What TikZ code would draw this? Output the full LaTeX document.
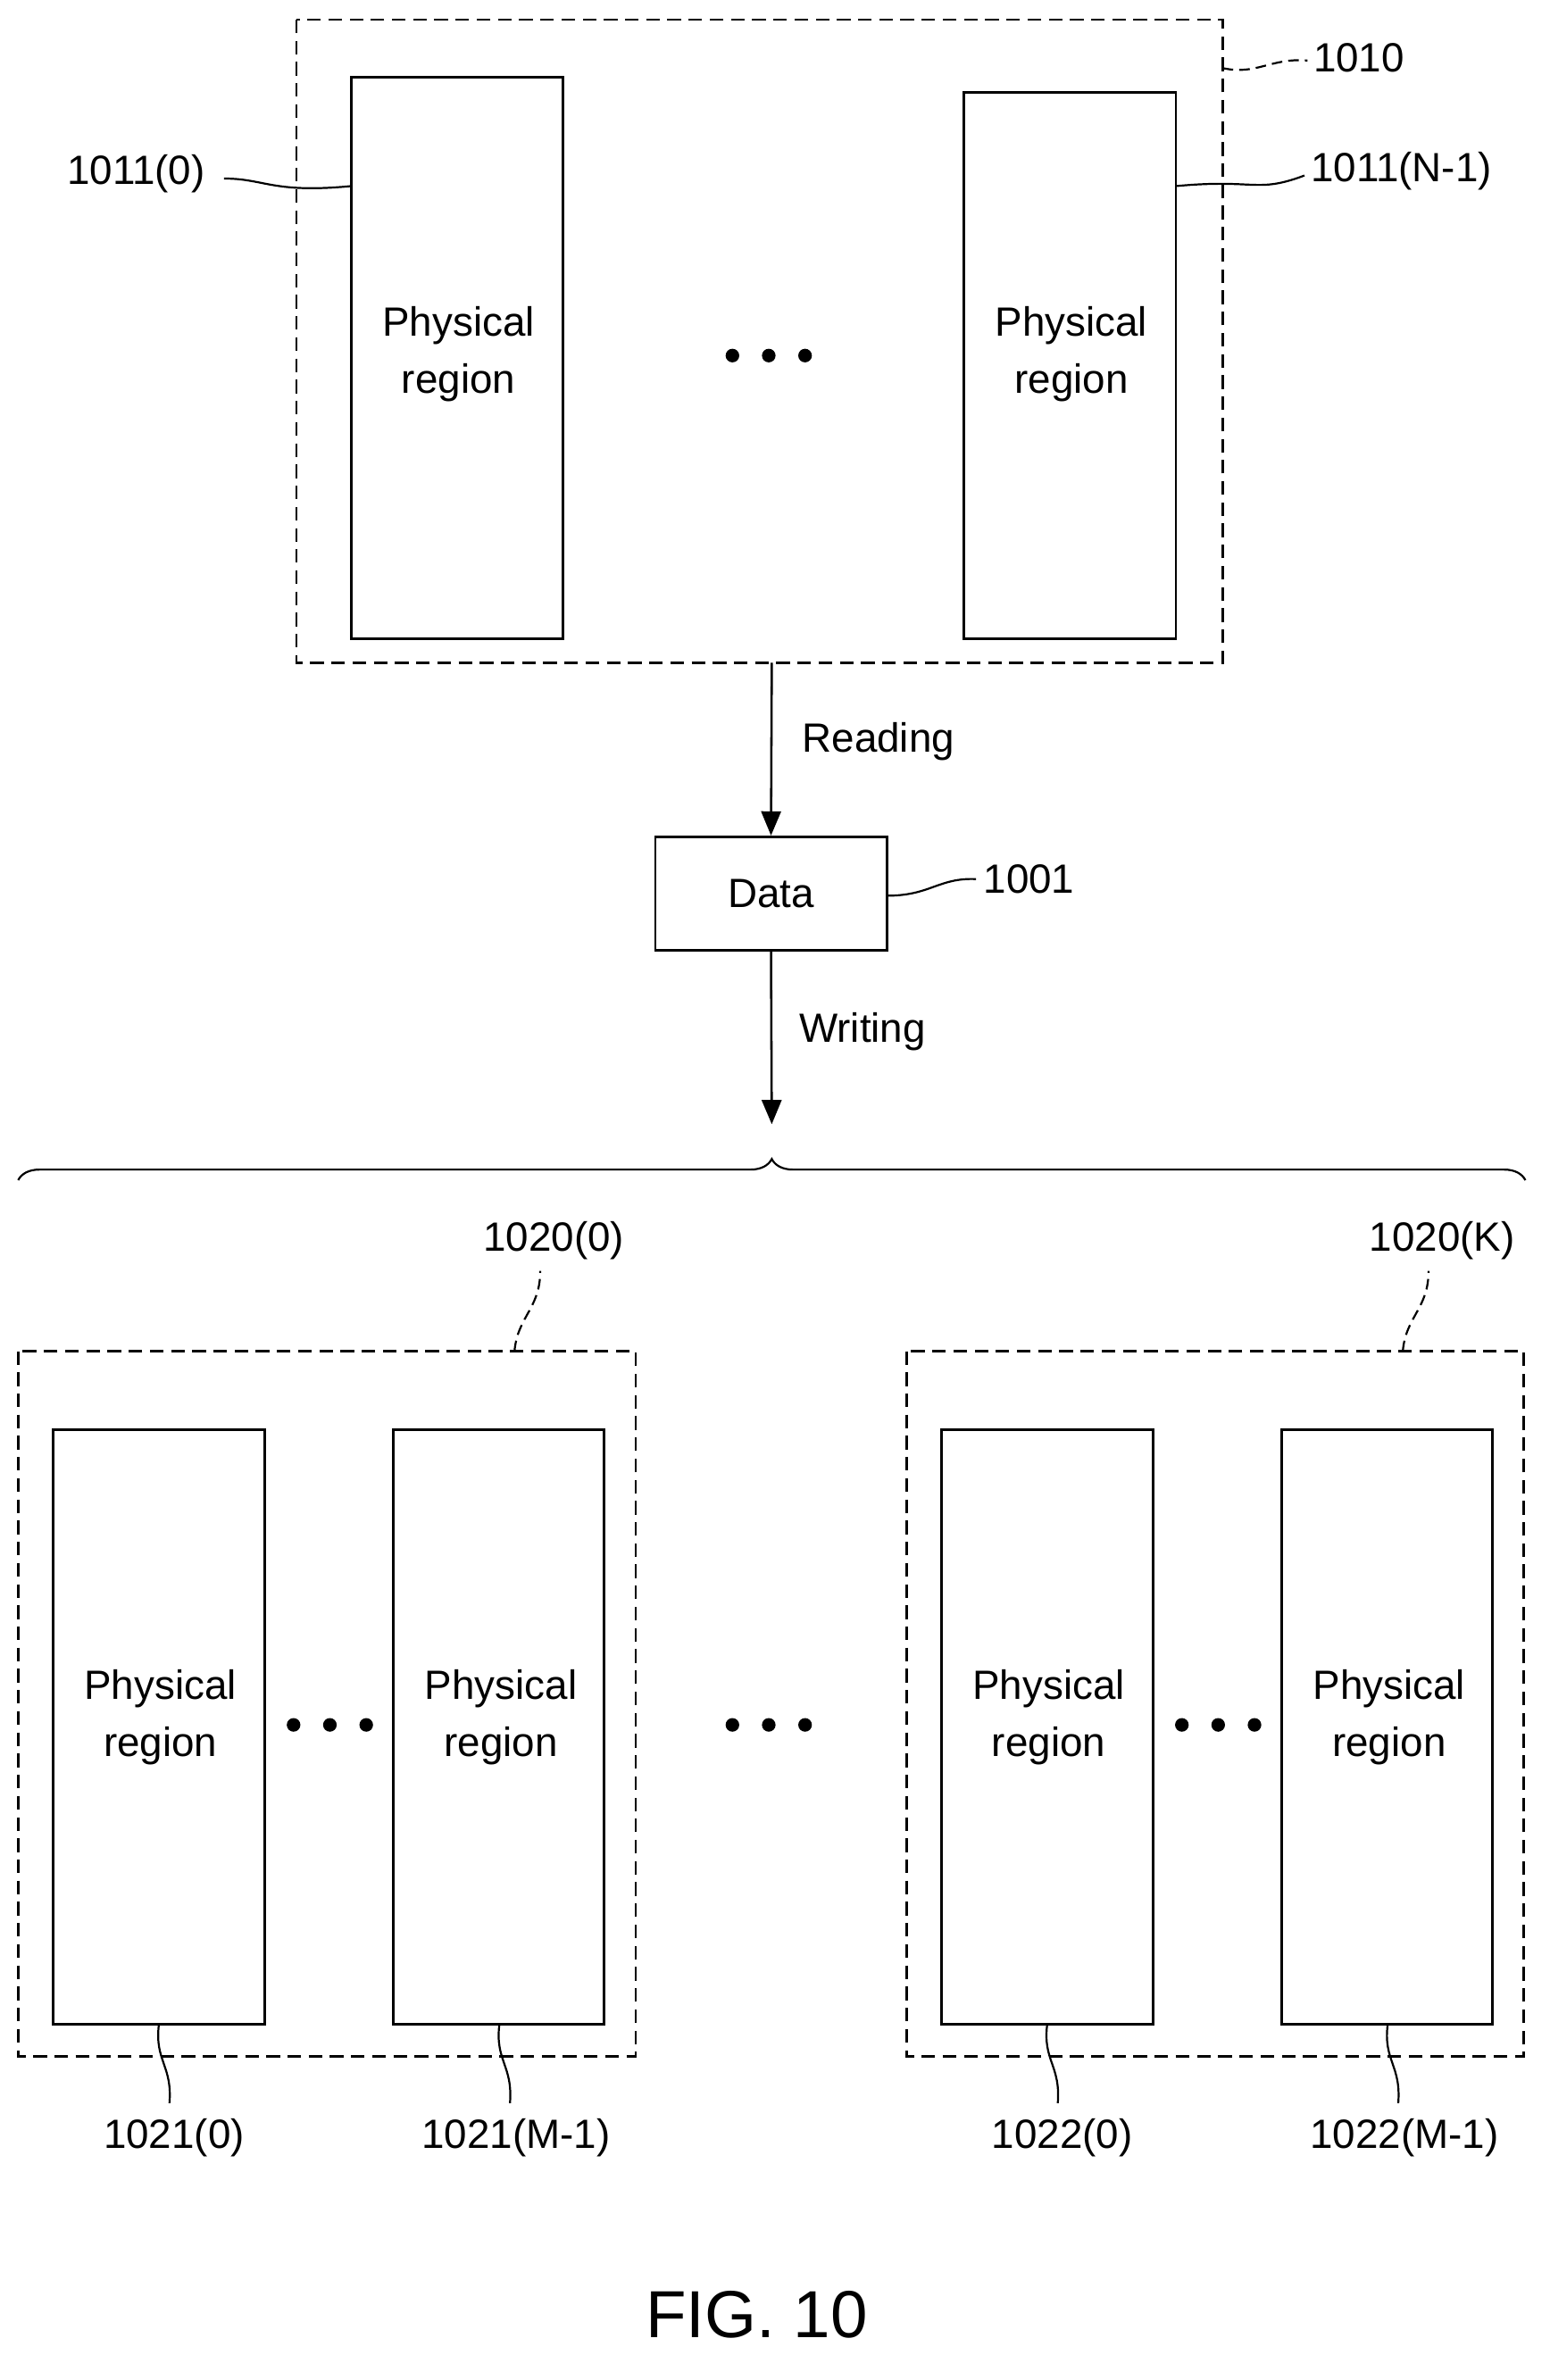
\documentclass[tikz,border=0pt]{standalone}
\usepackage{fontspec}
\setmainfont{Liberation Sans}
\usetikzlibrary{decorations.pathreplacing,arrows.meta}
\begin{document}
\begin{tikzpicture}[x=1pt,y=-1pt,
  box/.style={draw,line width=1.6pt},
  grp/.style={draw,line width=1.5pt,dash pattern=on 9pt off 5pt},
  lbl/.style={font=\fontsize{27}{30}\selectfont,inner sep=0pt},
  txt/.style={font=\fontsize{27}{38}\selectfont,align=center,inner sep=0pt},
  lead/.style={line width=1.3pt},
  arr/.style={line width=1.5pt,-{Triangle[length=16pt,width=13pt]}},
  dot/.style={fill,circle,inner sep=0pt,minimum size=9pt}]
\useasboundingbox (0,0) rectangle (1024,1573);
\newcommand{\threedots}[2]{\node[dot] at (#1-24,#2){};\node[dot] at (#1,#2){};\node[dot] at (#1+24,#2){};}
% top group
\draw[grp] (196,13) rectangle (808,438);
\draw[box] (232,51) rectangle (372,422);
\draw[box] (637,61) rectangle (777,422);
\node[txt] at (303,234) {Physical\\region};
\node[txt] at (708,234) {Physical\\region};
\threedots{508}{235}
\node[lbl] (l1010) at (898,38) {1010};
\draw[lead,dash pattern=on 7pt off 4pt] (808,45) .. controls (830,50) and (840,38) .. (864,40);
\node[lbl] (l0) at (90,115) {1011(0)};
\draw[lead] (148,118) .. controls (175,118) and (180,128) .. (232,123);
\node[lbl] (lN) at (926,113) {1011(N-1)};
\draw[lead] (777,123) .. controls (830,118) and (830,128) .. (862,116);
% data
\node[box,lbl,minimum width=153pt,minimum height=75pt] (data) at (509.5,590.5) {Data};
\coordinate (topb) at (510,438);
\draw[arr] (topb) -- (data.north);
\node[lbl,anchor=west] at (530,490) {Reading};
\node[lbl] (l1001) at (680,581) {1001};
\draw[lead] (586,592) .. controls (615,592) and (620,580) .. (645,581);
\coordinate (warr) at (510,743);
\draw[arr] (data.south) -- (warr);
\node[lbl,anchor=west] at (528,682) {Writing};
\draw[line width=1.3pt,decorate,decoration={brace,amplitude=14pt}] (12,780) -- (1008,780);
% groups
\foreach \gx/\name/\la/\lb in {12/1020(0)/1021(0)/1021(M-1), 599/1020(K)/1022(0)/1022(M-1)}{
  \draw[grp] (\gx,893) rectangle (\gx+408,1359);
  \draw[box] (\gx+23,945) rectangle (\gx+163,1338);
  \draw[box] (\gx+248,945) rectangle (\gx+387,1338);
  \node[txt] at (\gx+94,1135) {Physical\\region};
  \node[txt] at (\gx+319,1135) {Physical\\region};
  \threedots{\gx+206}{1140}
  \node[lbl] at (\gx+354,820) {\name};
  \draw[lead,dash pattern=on 7pt off 4pt] (\gx+328,893) .. controls (\gx+330,870) and (\gx+345,865) .. (\gx+345,840);
  \node[lbl] at (\gx+103,1413) {\la};
  \draw[lead] (\gx+93,1338) .. controls (\gx+90,1362) and (\gx+102,1365) .. (\gx+100,1390);
  \node[lbl] at (\gx+329,1413) {\lb};
  \draw[lead] (\gx+318,1338) .. controls (\gx+315,1362) and (\gx+327,1365) .. (\gx+325,1390);
}
\threedots{508}{1140}
\node[font=\fontsize{44}{50}\selectfont] at (500,1530) {FIG. 10};
\end{tikzpicture}
\end{document}
